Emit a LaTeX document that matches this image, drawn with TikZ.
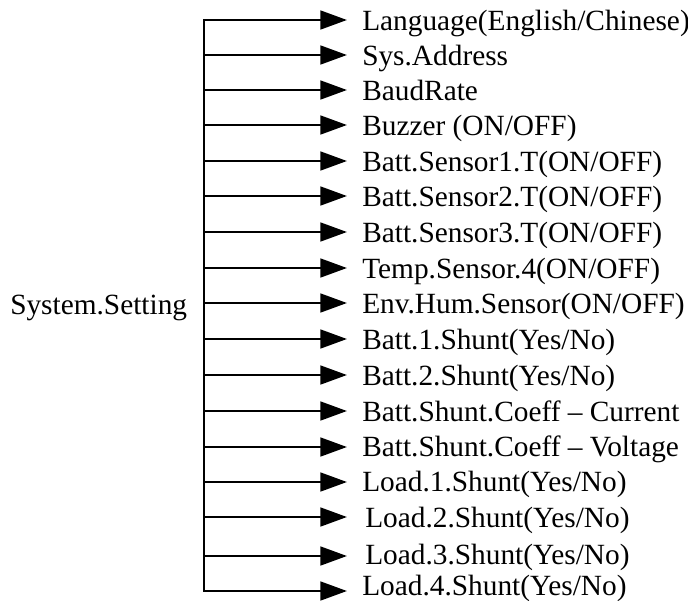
\documentclass[tikz,border=0pt]{standalone}
\usepackage{fontspec}
\setmainfont{Liberation Serif}
\usetikzlibrary{arrows.meta}

\begin{document}
\begin{tikzpicture}[x=0.75pt, y=-0.75pt,
  font=\fontsize{22}{26}\selectfont,
  item/.style={anchor=base west, inner ysep=0pt, inner xsep=11.25pt},
  bus/.style={line width=2.1pt, line cap=rect},
  arr/.style={-{Triangle[length=20pt, width=14pt]}, line width=2.1pt}]
\useasboundingbox (0,0) rectangle (688,600);
% settings menu
\node[anchor=base west, inner sep=0pt] (set) at (10,314) {System.Setting};
\node[item] (lang) at (347,30)  {Language(English/Chinese)};
\node[item] (addr) at (347,65)  {Sys.Address};
\node[item] (baud) at (347,100) {BaudRate};
\node[item] (buzz) at (347,135) {Buzzer (ON/OFF)};
\node[item] (bs1)  at (347,171) {Batt.Sensor1.T(ON/OFF)};
\node[item] (bs2)  at (347,206) {Batt.Sensor2.T(ON/OFF)};
\node[item] (bs3)  at (347,242) {Batt.Sensor3.T(ON/OFF)};
\node[item] (temp) at (347,278) {Temp.Sensor.4(ON/OFF)};
\node[item] (hum)  at (347,313) {Env.Hum.Sensor(ON/OFF)};
\node[item] (sh1)  at (347,349) {Batt.1.Shunt(Yes/No)};
\node[item] (sh2)  at (347,385) {Batt.2.Shunt(Yes/No)};
\node[item] (coefi) at (347,421) {Batt.Shunt.Coeff -- Current};
\node[item] (coefv) at (347,456) {Batt.Shunt.Coeff -- Voltage};
\node[item] (ld1)  at (347,491) {Load.1.Shunt(Yes/No)};
\node[item] (ld2)  at (350,527) {Load.2.Shunt(Yes/No)};
\node[item] (ld3)  at (350,564) {Load.3.Shunt(Yes/No)};
\node[item] (ld4)  at (347,595) {Load.4.Shunt(Yes/No)};
% taps on the bus
\coordinate (j1) at (204,20);
\coordinate (j2) at (204,55);
\coordinate (j3) at (204,90);
\coordinate (j4) at (204,125);
\coordinate (j5) at (204,161);
\coordinate (j6) at (204,196);
\coordinate (j7) at (204,232);
\coordinate (j8) at (204,268);
\coordinate (j9) at (204,303);
\coordinate (j10) at (204,339);
\coordinate (j11) at (204,375);
\coordinate (j12) at (204,411);
\coordinate (j13) at (204,447);
\coordinate (j14) at (204,482);
\coordinate (j15) at (204,517);
\coordinate (j16) at (204,556);
\coordinate (j17) at (204,591);
\draw[bus] (j1) -- (j17);
\draw[arr] (j1) -- (j1 -| lang.west);
\draw[arr] (j2) -- (j2 -| lang.west);
\draw[arr] (j3) -- (j3 -| lang.west);
\draw[arr] (j4) -- (j4 -| lang.west);
\draw[arr] (j5) -- (j5 -| lang.west);
\draw[arr] (j6) -- (j6 -| lang.west);
\draw[arr] (j7) -- (j7 -| lang.west);
\draw[arr] (j8) -- (j8 -| lang.west);
\draw[arr] (j9) -- (j9 -| lang.west);
\draw[arr] (j10) -- (j10 -| lang.west);
\draw[arr] (j11) -- (j11 -| lang.west);
\draw[arr] (j12) -- (j12 -| lang.west);
\draw[arr] (j13) -- (j13 -| lang.west);
\draw[arr] (j14) -- (j14 -| lang.west);
\draw[arr] (j15) -- (j15 -| lang.west);
\draw[arr] (j16) -- (j16 -| lang.west);
\draw[arr] (j17) -- (j17 -| lang.west);
\end{tikzpicture}
\end{document}
